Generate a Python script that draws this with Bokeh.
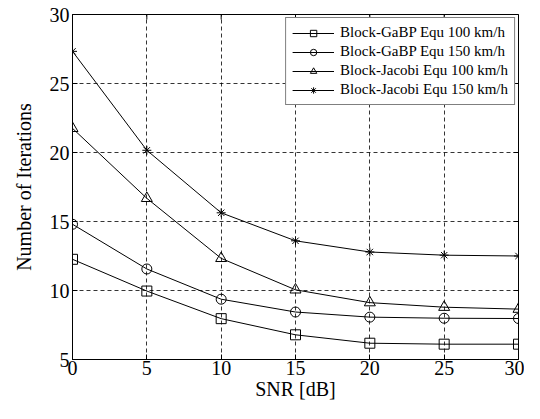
import math
from bokeh.plotting import figure
from bokeh.models import Range1d, Legend, LegendItem, FixedTicker
from bokeh.embed import file_html
from bokeh.resources import INLINE

snr = [0, 5, 10, 15, 20, 25, 30]
gabp_100 = [12.26, 9.96, 7.96, 6.79, 6.18, 6.11, 6.11]
gabp_150 = [14.8, 11.56, 9.37, 8.44, 8.07, 7.99, 7.97]
jacobi_100 = [21.75, 16.68, 12.33, 10.05, 9.12, 8.79, 8.65]
jacobi_150 = [27.33, 20.16, 15.63, 13.6, 12.79, 12.56, 12.5]
labels = ["Block-GaBP Equ 100 km/h", "Block-GaBP Equ 150 km/h",
          "Block-Jacobi Equ 100 km/h", "Block-Jacobi Equ 150 km/h"]
x_ticks = [0, 5, 10, 15, 20, 25, 30]
y_ticks = [5, 10, 15, 20, 25, 30]

FONT = "Liberation Serif"

p = figure(width=524, height=403, output_backend="svg", toolbar_location=None,
           x_range=Range1d(x_ticks[0], x_ticks[-1]), y_range=Range1d(y_ticks[0], y_ticks[-1]),
           min_border_left=72, min_border_right=6, min_border_top=14, min_border_bottom=44)
p.background_fill_color = "white"
p.border_fill_color = "white"
p.outline_line_color = "black"
p.outline_line_width = 1

for ax in (p.xaxis[0], p.yaxis[0]):
    ax.major_tick_in = 5
    ax.major_tick_out = 0
    ax.minor_tick_in = 0
    ax.minor_tick_out = 0
    ax.axis_line_color = "black"
    ax.major_tick_line_color = "black"
    ax.major_label_text_font = FONT
    ax.major_label_text_font_size = "20px"
    ax.major_label_text_color = "black"
    ax.axis_label_text_font = FONT
    ax.axis_label_text_font_size = "20px"
    ax.axis_label_text_font_style = "normal"
    ax.axis_label_text_color = "black"

p.xaxis[0].ticker = FixedTicker(ticks=x_ticks)
p.yaxis[0].ticker = FixedTicker(ticks=y_ticks)
p.xaxis[0].axis_label = "SNR [dB]"
p.yaxis[0].axis_label = "Number of Iterations"
p.xaxis[0].major_label_standoff = 1
p.xaxis[0].axis_label_standoff = 0
p.yaxis[0].major_label_standoff = 3
p.yaxis[0].axis_label_standoff = 12

p.xgrid[0].ticker = FixedTicker(ticks=x_ticks[1:-1])
p.ygrid[0].ticker = FixedTicker(ticks=y_ticks[1:-1])
for g in (p.xgrid[0], p.ygrid[0]):
    g.grid_line_color = "black"
    g.grid_line_dash = "4 3"
    g.grid_line_width = 0.8

# inward ticks on top and right edges (half of each dash is clipped by the frame)
p.scatter(x_ticks, [y_ticks[-1]] * len(x_ticks), marker="dash", angle=math.pi / 2,
          size=10, line_color="black", line_width=1)
p.scatter([x_ticks[-1]] * len(y_ticks), y_ticks, marker="dash",
          size=10, line_color="black", line_width=1)

series = [gabp_100, gabp_150, jacobi_100, jacobi_150]
markers = ["square", "circle", "triangle", "asterisk"]
sizes = [10, 10, 11, 9]
items = []
for ys, mk, sz, lab in zip(series, markers, sizes, labels):
    r1 = p.line(snr, ys, line_color="black", line_width=1)
    r2 = p.scatter(snr, ys, marker=mk, size=sz, line_color="black", fill_color=None, line_width=1)
    items.append(LegendItem(label=lab, renderers=[r1, r2]))

legend = Legend(items=items, location="top_right")
legend.label_text_font = FONT
legend.label_text_font_size = "15px"
legend.label_text_color = "black"
legend.border_line_color = "black"
legend.border_line_width = 1
legend.background_fill_alpha = 1
legend.glyph_width = 42
legend.glyph_height = 16
legend.label_height = 16
legend.spacing = 2
legend.padding = 6
legend.margin = 3
legend.label_standoff = 6
p.add_layout(legend, "center")

open("out.html", "w").write(file_html(p, INLINE))
